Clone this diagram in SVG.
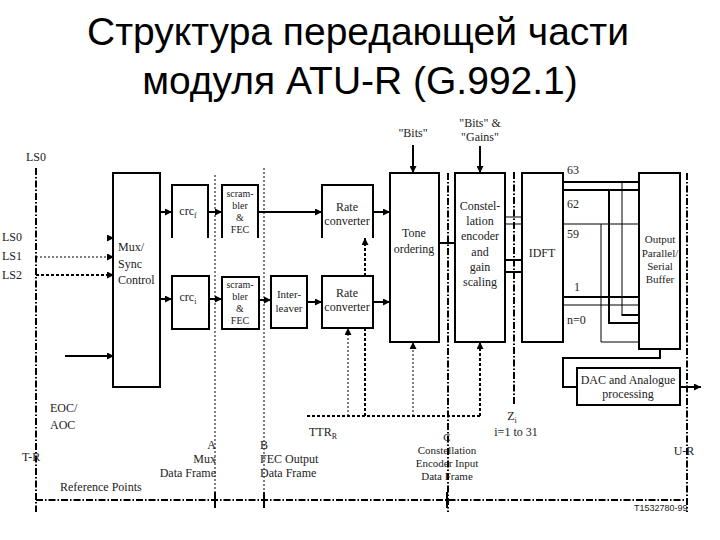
<svg xmlns="http://www.w3.org/2000/svg" width="720" height="540" viewBox="0 0 720 540">
<defs>
<marker id="ah" viewBox="0 0 10 10" refX="10" refY="5" markerWidth="7" markerHeight="7" markerUnits="userSpaceOnUse" orient="auto">
<path d="M0,0 L10,5 L0,10 z" fill="#000"/>
</marker>
<style>
.box{fill:none;stroke:#000;stroke-width:2}
.ln{fill:none;stroke:#000;stroke-width:2}
.tn{fill:none;stroke:#000;stroke-width:1}
.dd{fill:none;stroke:#000;stroke-width:2;stroke-dasharray:7 2 1.5 2}
.dt{fill:none;stroke:#000;stroke-width:1;stroke-dasharray:2 2}
.dtk{fill:none;stroke:#000;stroke-width:2;stroke-dasharray:3 2}
.arr{marker-end:url(#ah)}
text{font-family:"Liberation Serif",serif;font-size:12px;fill:#222}
.c{text-anchor:middle}
.r{text-anchor:end}
.s{font-size:10px}
.m{font-size:11px}
.title{font-family:"Liberation Sans",Arial,sans-serif;font-size:39px;fill:#000;text-anchor:middle}
</style>
</defs>
<rect width="720" height="540" fill="#fff"/>

<g id="title">
<text class="title" x="358" y="45">Структура передающей части</text>
<text class="title" x="360" y="94">модуля ATU-R (G.992.1)</text>
</g>

<g id="reference-lines">
<line class="dd" x1="36" y1="168" x2="36" y2="512"/>
<line class="dt" x1="215" y1="175" x2="215" y2="508"/>
<line class="dt" x1="264" y1="168" x2="264" y2="508"/>
<line class="dd" x1="448" y1="173" x2="448" y2="512"/>
<line class="dd" x1="514" y1="172" x2="514" y2="405"/>
<line class="dd" x1="687" y1="173" x2="687" y2="512"/>
<line class="dd" x1="36" y1="500" x2="687" y2="500"/>
<line class="ln" x1="215" y1="492" x2="215" y2="508"/>
<line class="ln" x1="264" y1="492" x2="264" y2="508"/>
<line class="ln" x1="447" y1="492" x2="447" y2="508"/>
</g>

<g id="mux"><rect class="box" x="113" y="173" width="47" height="214"/>
<text x="118" y="251">Mux/</text><text x="118" y="268">Sync</text><text x="118" y="284">Control</text></g>

<g id="crcf"><path class="box" d="M172,238 V185 H208 V238"/>
<text class="c" x="188" y="215">crc<tspan font-size="8" dy="3">f</tspan></text></g>
<g id="crci"><rect class="box" x="172" y="276" width="37" height="53"/>
<text class="c" x="188" y="301">crc<tspan font-size="8" dy="3">i</tspan></text></g>

<g id="scr1"><path class="box" d="M222,238 V185 H258 V238"/>
<text class="c s" x="240" y="197">scram-</text><text class="c s" x="240" y="209">bler</text><text class="c s" x="240" y="221">&amp;</text><text class="c s" x="240" y="233">FEC</text></g>
<g id="scr2"><rect class="box" x="222" y="277" width="37" height="52"/>
<text class="c s" x="240" y="288">scram-</text><text class="c s" x="240" y="300">bler</text><text class="c s" x="240" y="312">&amp;</text><text class="c s" x="240" y="324">FEC</text></g>

<g id="interleaver"><rect class="box" x="271" y="276" width="36" height="52"/>
<text class="c m" x="289" y="298">Inter-</text><text class="c m" x="289" y="312">leaver</text></g>

<g id="rate1"><path class="box" d="M322,238 V185 H373 V238"/>
<text class="c" x="347" y="211">Rate</text><text class="c" x="347" y="225">converter</text></g>
<g id="rate2"><rect class="box" x="322" y="276" width="51" height="52"/>
<text class="c" x="347" y="297">Rate</text><text class="c" x="347" y="311">converter</text></g>

<g id="tone"><rect class="box" x="390" y="173" width="49" height="169"/>
<text class="c" x="414" y="237">Tone</text><text class="c" x="414" y="253">ordering</text></g>

<g id="const"><rect class="box" x="455" y="173" width="50" height="169"/>
<text class="c" x="480" y="210">Constel-</text><text class="c" x="480" y="225">lation</text><text class="c" x="480" y="240">encoder</text><text class="c" x="480" y="256">and</text><text class="c" x="480" y="271">gain</text><text class="c" x="480" y="286">scaling</text></g>

<g id="idft"><rect class="box" x="522" y="173" width="41" height="169"/>
<text class="c" x="542" y="257">IDFT</text></g>

<g id="buffer"><rect class="box" x="639" y="173" width="41" height="176"/>
<text class="c m" x="660" y="243">Output</text><text class="c m" x="660" y="257">Parallel/</text><text class="c m" x="660" y="270">Serial</text><text class="c m" x="660" y="283">Buffer</text></g>

<g id="dac"><rect class="box" x="577" y="368" width="103" height="37"/>
<text class="c" x="628" y="384">DAC and Analogue</text><text class="c" x="628" y="398">processing</text></g>

<g id="connectors">
<line class="arr" x1="108" y1="238" x2="114" y2="238" stroke="#000" stroke-width="2"/>
<line class="dt arr" x1="36" y1="257" x2="114" y2="257"/>
<line class="dtk arr" x1="36" y1="275" x2="114" y2="275"/>
<line class="ln arr" x1="65" y1="356" x2="114" y2="356"/>
<line class="ln arr" x1="160" y1="212" x2="172" y2="212"/>
<line class="ln arr" x1="208" y1="212" x2="222" y2="212"/>
<line class="ln arr" x1="258" y1="212" x2="322" y2="212"/>
<line class="ln arr" x1="373" y1="212" x2="390" y2="212"/>
<line class="ln arr" x1="160" y1="299" x2="172" y2="299"/>
<line class="ln arr" x1="209" y1="299" x2="222" y2="299"/>
<line class="ln arr" x1="259" y1="300" x2="271" y2="300"/>
<line class="ln arr" x1="307" y1="302" x2="322" y2="302"/>
<line class="ln arr" x1="373" y1="302" x2="390" y2="302"/>
<line class="dtk arr" x1="365" y1="276" x2="365" y2="238"/>
<line class="ln arr" x1="413" y1="145" x2="413" y2="173"/>
<line class="ln arr" x1="480" y1="146" x2="480" y2="173"/>
<line class="ln" x1="439" y1="243" x2="455" y2="243"/>
<line class="tn" x1="505" y1="217" x2="522" y2="217"/>
<line class="tn" x1="505" y1="224" x2="522" y2="224"/>
<line class="ln" x1="505" y1="260" x2="522" y2="260"/>
<line class="ln" x1="505" y1="272" x2="522" y2="272"/>
<line class="ln" x1="563" y1="182" x2="639" y2="182"/>
<line class="ln" x1="563" y1="190" x2="639" y2="190"/>
<line class="tn" x1="563" y1="224" x2="639" y2="224"/>
<line class="ln" x1="563" y1="297" x2="639" y2="297"/>
<line class="tn" x1="563" y1="305" x2="639" y2="305"/>
<line class="tn" x1="622" y1="182" x2="622" y2="315"/>
<line class="ln" x1="621.5" y1="315" x2="639" y2="315"/>
<polyline class="ln" points="609,190 609,323 639,323"/>
<polyline class="tn" points="601,224 601,342 639,342"/>
<polyline class="ln" points="660,349 660,358 563,358 563,387 577,387"/>
<line class="ln arr" x1="680" y1="387" x2="701" y2="387"/>
<line class="dtk" x1="307" y1="416" x2="480" y2="416"/>
<line class="dt arr" x1="348" y1="416" x2="348" y2="328"/>
<line class="dtk" x1="365" y1="416" x2="365" y2="328"/>
<line class="dt arr" x1="413" y1="416" x2="413" y2="342"/>
<line class="dtk arr" x1="480" y1="416" x2="480" y2="342"/>
</g>

<g id="labels">
<text class="c" x="36" y="161">LS0</text>
<text x="2" y="241">LS0</text>
<text x="2" y="260">LS1</text>
<text x="2" y="279">LS2</text>
<text x="50" y="412">EOC/</text>
<text x="50" y="429">AOC</text>
<text x="22" y="461">T-R</text>
<text x="60" y="491">Reference Points</text>
<text class="r" x="216" y="449">A</text>
<text class="r" x="216" y="463">Mux</text>
<text class="r" x="216" y="477">Data Frame</text>
<text x="260" y="449">B</text>
<text x="260" y="463">FEC Output</text>
<text x="260" y="477">Data Frame</text>
<text class="c m" x="447" y="441">C</text>
<text class="c m" x="447" y="454">Constellation</text>
<text class="c m" x="447" y="467">Encoder Input</text>
<text class="c m" x="447" y="480">Data Frame</text>
<text x="309" y="436">TTR<tspan font-size="8" dy="3">R</tspan></text>
<text class="c" x="512" y="420">Z<tspan font-size="8" dy="3">i</tspan></text>
<text class="c" x="516" y="436">i=1 to 31</text>
<text class="c" x="684" y="455">U-R</text>
<text class="c" x="413" y="137">"Bits"</text>
<text class="c" x="480" y="127">"Bits" &amp;</text>
<text class="c" x="480" y="141">"Gains"</text>
<text x="567" y="174">63</text>
<text x="567" y="208">62</text>
<text x="567" y="238">59</text>
<text x="574" y="291" fill="#888">1</text>
<text x="567" y="324">n=0</text>
<text x="634" y="511" style="font-family:'Liberation Sans',sans-serif;font-size:9px">T1532780-99</text>
</g>
</svg>
